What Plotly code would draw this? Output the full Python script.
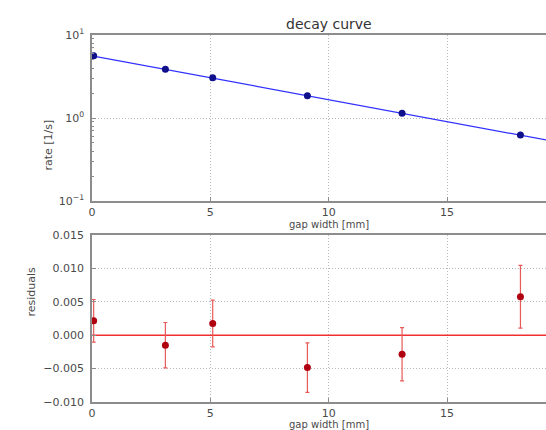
import plotly.graph_objects as go

# measured decay rates vs. gap width
gap_mm = [0.07, 3.1, 5.1, 9.1, 13.1, 18.1]
rate = [5.63, 3.86, 3.06, 1.86, 1.14, 0.624]

# exponential fit evaluated at the ends of the gap range
fit_gap = [0, 20]
fit_rate = [5.62, 0.492]

# fit residuals with their uncertainties
residuals = [0.00215, -0.0015, 0.00175, -0.00485, -0.00285, 0.00575]
residual_err = [0.0032, 0.0034, 0.0035, 0.0037, 0.0040, 0.0047]

x_ticks = [0, 5, 10, 15]
log_ticks = [0.1, 1, 10]
log_labels = ["10<sup>\u22121</sup>", "10<sup>0</sup>", "10<sup>1</sup>"]
res_ticks = [-0.010, -0.005, 0.000, 0.005, 0.010, 0.015]
res_labels = ["\u22120.010", "\u22120.005", "0.000", "0.005", "0.010", "0.015"]

FONT = "DejaVu Sans"
SPINE = "#8c8c8c"
GRID = "#b8b8b8"
TXT = "#4a4a4a"
DOTS = "1px,2px"
X_MAX = 19.18

fig = go.Figure()

fig.add_trace(go.Scatter(x=fit_gap, y=fit_rate, mode="lines",
                         line=dict(color="#3030ff", width=1.2),
                         xaxis="x", yaxis="y", hoverinfo="skip"))
fig.add_trace(go.Scatter(x=gap_mm, y=rate, mode="markers",
                         marker=dict(color="#10108c", size=7),
                         xaxis="x", yaxis="y"))

fig.add_trace(go.Scatter(x=fit_gap, y=[0, 0], mode="lines",
                         line=dict(color="#f03030", width=1.5),
                         xaxis="x2", yaxis="y2", hoverinfo="skip"))
fig.add_trace(go.Scatter(x=gap_mm, y=residuals, mode="markers",
                         marker=dict(color="#b00010", size=7),
                         error_y=dict(type="data", array=residual_err,
                                      color="#e85a5a", thickness=1.2, width=2),
                         xaxis="x2", yaxis="y2"))

common_x = dict(range=[0, X_MAX], tickvals=x_ticks, showline=True, mirror=True,
                linecolor=SPINE, linewidth=1.5, ticks="inside", ticklen=4,
                tickcolor=SPINE, showgrid=True, gridcolor=GRID, griddash=DOTS,
                gridwidth=1, zeroline=False, ticklabelstandoff=0,
                tickfont=dict(family=FONT, size=11, color=TXT))

fig.update_layout(
    width=546, height=430,
    margin=dict(l=92, r=0, t=35, b=28),
    paper_bgcolor="white", plot_bgcolor="white",
    showlegend=False,
    xaxis=dict(anchor="y", domain=[0, 1], **common_x),
    yaxis=dict(anchor="x", domain=[0.5477, 1], type="log",
               range=[-1, 1], tickvals=log_ticks, ticktext=log_labels,
               showline=True, linecolor=SPINE, linewidth=1.5,
               ticks="inside", ticklen=4, tickcolor=SPINE,
               minor=dict(ticks="inside", ticklen=2, tickcolor=SPINE, dtick="D1"),
               showgrid=True, gridcolor=GRID, griddash=DOTS, zeroline=False,
               ticklabelstandoff=4,
               tickfont=dict(family=FONT, size=11, color=TXT)),
    xaxis2=dict(anchor="y2", domain=[0, 1], **common_x),
    yaxis2=dict(anchor="x2", domain=[0, 0.455], range=[-0.010, 0.015],
                tickvals=res_ticks, ticktext=res_labels,
                showline=True, linecolor=SPINE, linewidth=1.5,
                ticks="inside", ticklen=4, tickcolor=SPINE,
                showgrid=True, gridcolor=GRID, griddash=DOTS, zeroline=False,
                ticklabelstandoff=4,
                tickfont=dict(family=FONT, size=11, color=TXT)),
)

annots = [
    dict(text="decay curve", x=10, xref="x", y=1, yref="paper",
         yanchor="bottom", yshift=1, font=dict(family=FONT, size=14, color="#333")),
    dict(text="gap width [mm]", x=10, xref="x", y=0.5477, yref="paper",
         yanchor="top", yshift=-16, font=dict(family=FONT, size=10, color=TXT)),
    dict(text="gap width [mm]", x=10, xref="x2", y=0, yref="paper",
         yanchor="top", yshift=-14.5, font=dict(family=FONT, size=10, color=TXT)),
    dict(text="rate [1/s]", x=0, xref="paper", xanchor="center", xshift=-43,
         y=0.7738, yref="paper", textangle=-90,
         font=dict(family=FONT, size=11, color=TXT)),
    dict(text="residuals", x=0, xref="paper", xanchor="center", xshift=-60,
         y=0.2275, yref="paper", textangle=-90,
         font=dict(family=FONT, size=11, color=TXT)),
]
for a in annots:
    a["showarrow"] = False
    fig.add_annotation(**a)

fig.write_html("out.html")
